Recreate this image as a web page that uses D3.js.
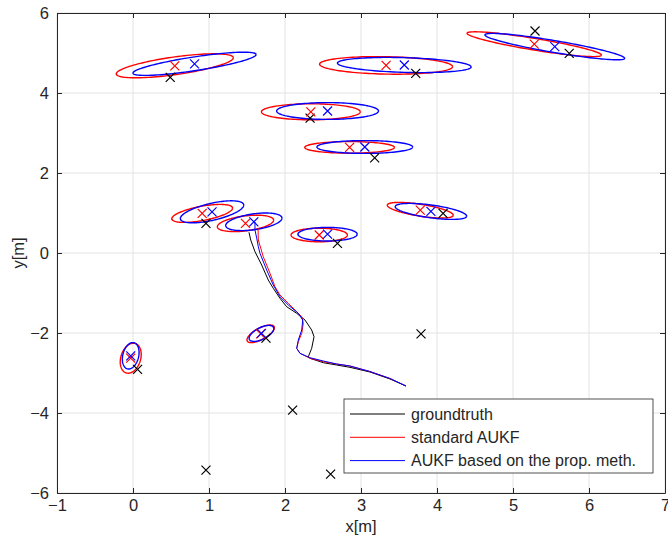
<!DOCTYPE html>
<html>
<head>
<meta charset="utf-8">
<script src="https://cdn.jsdelivr.net/npm/d3@7"></script>
<style>
  body { margin: 0; background: #fff; }
  text { font-family: "Liberation Sans", Arial, sans-serif; fill: #262626; }
</style>
</head>
<body>
<div id="chart"></div>
<script>
// Landmarks (ground truth), black crosses
const landmarks = [[0.49,4.39],[3.72,4.49],[5.29,5.55],[5.74,4.99],[2.33,3.37],[3.18,2.38],
  [0.96,0.74],[2.69,0.24],[4.08,0.99],[1.75,-2.13],[0.06,-2.91],
  [3.79,-2.02],[2.1,-3.93],[0.96,-5.43],[2.6,-5.53]]

// Landmark estimates: centre [x,y] and ellipse [sx, sy, rho]
const redEst = [[0.55,4.68],[3.33,4.69],[5.28,5.22],[2.34,3.53],[2.85,2.64],[0.91,0.99],
  [1.48,0.74],[2.45,0.45],[3.78,1.07],[1.68,-2.02],[-0.03,-2.63]]
const redEll = [[0.77,0.30,0.67],[0.875,0.22,-0.14],[0.884,0.31,-0.88],[0.65,0.2,0],[0.59,0.145,0],
  [0.40,0.225,0.59],[0.37,0.205,0.4],[0.37,0.17,0],[0.434,0.195,-0.64],[0.18,0.22,0.69],[0.138,0.375,0.25]]
const blueEst = [[0.81,4.73],[3.57,4.70],[5.55,5.16],[2.56,3.55],[3.05,2.65],[1.04,1.03],
  [1.59,0.78],[2.56,0.47],[3.92,1.04],[1.69,-2.01],[-0.03,-2.57]]
const blueEll = [[0.81,0.29,0.8],[0.88,0.19,-0.25],[0.92,0.33,-0.89],[0.67,0.21,0],[0.63,0.16,0],
  [0.417,0.275,0.61],[0.37,0.22,0.42],[0.39,0.17,0],[0.47,0.2,-0.59],[0.162,0.2,0.6],[0.11,0.33,0.25]]

// Trajectories
const truthPath = [[1.526,0.518],[1.549,0.325],[1.605,0.033],[1.693,-0.30],[1.780,-0.675],[1.846,-0.883],
  [1.934,-1.133],[2.022,-1.343],[2.154,-1.508],[2.263,-1.675],[2.351,-1.925],[2.382,-2.093],
  [2.351,-2.383],[2.307,-2.593],[2.329,-2.633],[2.504,-2.743],[2.680,-2.80],[2.855,-2.858],
  [3.118,-2.975],[3.382,-3.15],[3.592,-3.325]]
const redPath = [[1.645,0.625],[1.649,0.325],[1.714,-0.093],[1.803,-0.508],[1.868,-0.843],[1.934,-1.05],
  [2.043,-1.258],[2.154,-1.468],[2.220,-1.593],[2.241,-1.758],[2.220,-2.008],[2.175,-2.218],
  [2.154,-2.383],[2.197,-2.508],[2.329,-2.633],[2.504,-2.718],[2.680,-2.775],[2.855,-2.825],
  [3.118,-2.963],[3.382,-3.138],[3.592,-3.325]]
const bluePath = [[1.605,0.775],[1.605,0.575],[1.628,0.368],[1.649,0.158],[1.671,-0.008],[1.759,-0.425],
  [1.846,-0.80],[1.934,-1.093],[2.043,-1.30],[2.175,-1.508],[2.233,-1.675],[2.220,-1.925],
  [2.175,-2.175],[2.154,-2.383],[2.197,-2.508],[2.329,-2.618],[2.504,-2.70],[2.680,-2.775],
  [2.855,-2.825],[3.118,-2.963],[3.382,-3.138],[3.592,-3.325]]

const xTicks = [-1,0,1,2,3,4,5,6,7]
const yTicks = [-6,-4,-2,0,2,4,6]
const legendLabels = ["groundtruth", "standard AUKF", "AUKF based on the prop. meth."]
const legendColors = ["#000000", "#ff0000", "#0000ff"]

const W = 668, H = 554
const margin = {top: 13, right: 3, bottom: 61, left: 57}

const svg = d3.select("#chart").append("svg")
  .attr("width", W).attr("height", H)

const x = d3.scaleLinear().domain([-1, 7]).range([margin.left, W - margin.right])
const y = d3.scaleLinear().domain([-6, 6]).range([H - margin.bottom, margin.top])

// grid
svg.append("g").selectAll("line").data(xTicks).enter().append("line")
  .attr("x1", d => x(d)).attr("x2", d => x(d))
  .attr("y1", y(-6)).attr("y2", y(6))
  .attr("stroke", "#e3e3e3").attr("stroke-width", 1)
svg.append("g").selectAll("line").data(yTicks).enter().append("line")
  .attr("y1", d => y(d)).attr("y2", d => y(d))
  .attr("x1", x(-1)).attr("x2", x(7))
  .attr("stroke", "#e3e3e3").attr("stroke-width", 1)

// ellipses
function ellipsePts(c, e) {
  const pts = []
  const k = Math.sqrt(1 - e[2] * e[2])
  for (let i = 0; i <= 120; i++) {
    const t = i / 120 * 2 * Math.PI
    pts.push([c[0] + e[0] * Math.cos(t), c[1] + e[1] * (e[2] * Math.cos(t) + k * Math.sin(t))])
  }
  return pts
}
const line = d3.line().x(d => x(d[0])).y(d => y(d[1]))

svg.append("g").selectAll("path").data(redEst).enter().append("path")
  .attr("d", (d, i) => line(ellipsePts(d, redEll[i])))
  .attr("fill", "none").attr("stroke", "#ff0000").attr("stroke-width", 1.4)
svg.append("g").selectAll("path").data(blueEst).enter().append("path")
  .attr("d", (d, i) => line(ellipsePts(d, blueEll[i])))
  .attr("fill", "none").attr("stroke", "#0000ff").attr("stroke-width", 1.4)

// trajectories
svg.append("path").attr("d", line(truthPath)).attr("fill", "none").attr("stroke", "#000").attr("stroke-width", 1)
svg.append("path").attr("d", line(redPath)).attr("fill", "none").attr("stroke", "#ff0000").attr("stroke-width", 1)
svg.append("path").attr("d", line(bluePath)).attr("fill", "none").attr("stroke", "#0000ff").attr("stroke-width", 1)

// crosses
function crosses(data, color) {
  const s = 4.5
  svg.append("g").selectAll("path").data(data).enter().append("path")
    .attr("d", d => {
      const px = x(d[0]), py = y(d[1])
      return `M${px - s},${py - s}L${px + s},${py + s}M${px - s},${py + s}L${px + s},${py - s}`
    })
    .attr("stroke", color).attr("stroke-width", 1.2).attr("fill", "none")
}
crosses(landmarks, "#000")
crosses(redEst, "#ff0000")
crosses(blueEst, "#0000ff")

// axes with inward ticks
const fs = "16.5px"
svg.append("g").attr("transform", `translate(0,${y(-6)})`)
  .call(d3.axisBottom(x).tickValues(xTicks).tickSizeInner(-5).tickSizeOuter(0).tickPadding(6))
  .call(g => g.select(".domain").attr("stroke", "#262626"))
  .call(g => g.selectAll(".tick line").attr("stroke", "#262626"))
  .call(g => g.selectAll("text").attr("font-size", fs).attr("font-family", "Liberation Sans, Arial").attr("fill", "#262626"))
svg.append("g").attr("transform", `translate(${x(-1)},0)`)
  .call(d3.axisLeft(y).tickValues(yTicks).tickSizeInner(-5).tickSizeOuter(0).tickPadding(8))
  .call(g => g.select(".domain").attr("stroke", "#262626"))
  .call(g => g.selectAll(".tick line").attr("stroke", "#262626"))
  .call(g => g.selectAll("text").attr("font-size", fs).attr("font-family", "Liberation Sans, Arial").attr("fill", "#262626"))
svg.append("g").attr("transform", `translate(0,${y(6)})`)
  .call(d3.axisTop(x).tickValues(xTicks).tickSizeInner(-5).tickSizeOuter(0).tickFormat(""))
  .call(g => g.selectAll("path, line").attr("stroke", "#262626"))
svg.append("g").attr("transform", `translate(${x(7)},0)`)
  .call(d3.axisRight(y).tickValues(yTicks).tickSizeInner(-5).tickSizeOuter(0).tickFormat(""))
  .call(g => g.selectAll("path, line").attr("stroke", "#262626"))

// axis labels
svg.append("text").attr("x", x(3)).attr("y", 532)
  .attr("text-anchor", "middle").attr("font-size", fs).text("x[m]")
svg.append("text").attr("transform", `translate(24,${y(0)}) rotate(-90)`)
  .attr("text-anchor", "middle").attr("font-size", fs).text("y[m]")

// legend
const lg = svg.append("g").attr("transform", "translate(344,399)")
lg.append("rect").attr("width", 309).attr("height", 74)
  .attr("fill", "#fff").attr("stroke", "#262626").attr("stroke-width", 0.8)
legendLabels.forEach((lab, i) => {
  const ly = 15 + i * 23.3
  lg.append("line").attr("x1", 6).attr("x2", 61).attr("y1", ly).attr("y2", ly)
    .attr("stroke", legendColors[i]).attr("stroke-width", 1)
  lg.append("text").attr("x", 67).attr("y", ly + 5.5).attr("font-size", "16px").attr("fill", "#000").text(lab)
})
</script>
</body>
</html>
